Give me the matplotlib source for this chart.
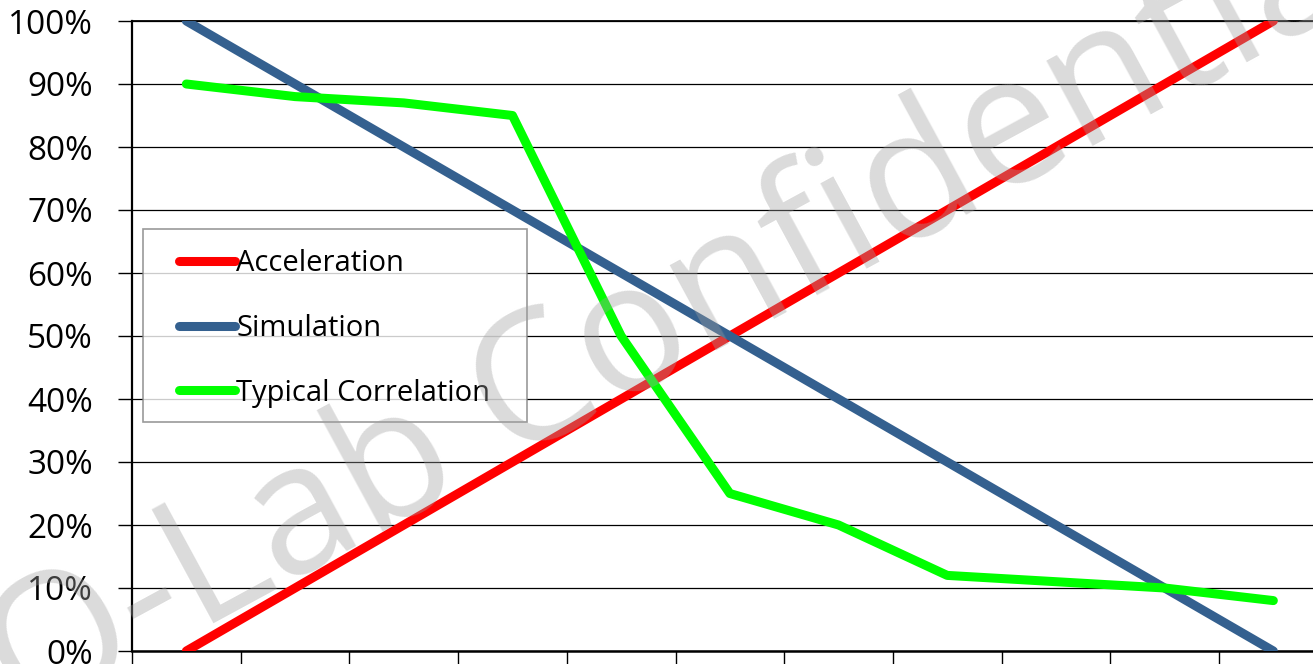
import numpy as np
import matplotlib
matplotlib.use("Agg")
import matplotlib.pyplot as plt
from matplotlib.legend_handler import HandlerLine2D
from matplotlib.lines import Line2D

# ---- data ----
categories = ["1", "2", "3", "4", "5", "6", "7", "8", "9", "10", "11"]
acceleration = [0, 10, 20, 30, 40, 50, 60, 70, 80, 90, 100]
simulation = [100, 90, 80, 70, 60, 50, 40, 30, 20, 10, 0]
typical_correlation = [90, 88, 87, 85, 50, 25, 20, 12, 11, 10, 8]
y_ticks = [0, 10, 20, 30, 40, 50, 60, 70, 80, 90, 100]
y_tick_labels = [f"{v}%" for v in y_ticks]
series_names = ["Acceleration", "Simulation", "Typical Correlation"]
series_colors = ["#FF0000", "#34608F", "#00FF00"]
watermark = "O-Lab Confidential"

plt.rcParams["font.family"] = ["Open Sans", "DejaVu Sans"]

W, H = 1313, 664
fig = plt.figure(figsize=(W / 100, H / 100), dpi=100)
fig.patch.set_facecolor("white")

# axes: left at 132 px, 11 categories of ~108.7 px (extends past right edge)
cat_w = 108.7
ax_left, ax_top, ax_bottom = 132, 21, 651
ax = fig.add_axes([ax_left / W, (H - ax_bottom) / H,
                   len(categories) * cat_w / W, (ax_bottom - ax_top) / H])

x = np.arange(len(categories))
for vals, name, col, z in zip([acceleration, simulation, typical_correlation],
                              series_names, series_colors, [3, 4, 5]):
    ax.plot(x, vals, color=col, lw=6.5, solid_capstyle="round",
            solid_joinstyle="round", label=name, zorder=z)

ax.set_xlim(-0.5, len(categories) - 0.5)
ax.set_ylim(0, 100)
ax.set_yticks(y_ticks)
ax.set_yticklabels(y_tick_labels, fontsize=24)
ax.set_xticks(np.arange(len(categories) + 1) - 0.5)
ax.set_xticklabels([])
ax.tick_params(axis="y", direction="out", length=10, width=1.0, pad=18, colors="black")
ax.tick_params(axis="x", direction="out", length=10, width=1.0, colors="black")
ax.yaxis.grid(True, color="black", lw=0.9, zorder=1)
ax.set_axisbelow(True)
ax.spines["right"].set_visible(False)
ax.spines["left"].set_linewidth(1.6)
ax.spines["bottom"].set_linewidth(1.8)
ax.spines["top"].set_linewidth(1.3)


class OffsetLineHandler(HandlerLine2D):
    def __init__(self, seg_px, **kw):
        super().__init__(**kw)
        self.seg_px = seg_px

    def get_xdata(self, legend, xdescent, ydescent, width, height, fontsize):
        x1 = -xdescent + width
        x0 = x1 - self.seg_px * 72 / 100
        xd = np.array([x0, x1])
        return xd, xd


handles, labels = ax.get_legend_handles_labels()
leg = ax.legend(handles, labels, loc="upper left",
                bbox_to_anchor=(143 / W, 1 - 229 / H), bbox_transform=fig.transFigure,
                fontsize=21, frameon=True, fancybox=False, borderpad=0.7,
                labelspacing=1.22, handlelength=2.45, handletextpad=0.05,
                borderaxespad=0,
                handler_map={Line2D: OffsetLineHandler(seg_px=56)})
leg.get_frame().set_edgecolor("#808080")
leg.get_frame().set_linewidth(1.2)
leg.set_zorder(6)

# widen the legend frame on the right side / trim bottom to match the reference
_orig_set_bounds = leg.legendPatch.set_bounds


def _adjusted(*args):
    if len(args) == 1:
        l, b, w, h = args[0]
    else:
        l, b, w, h = args
    _orig_set_bounds(l, b + 6, w + 16, h - 6)


leg.legendPatch.set_bounds = _adjusted

# watermark
fig.text(690 / W, 1 - 310 / H, watermark, fontsize=130, fontweight="normal",
         color="#a0a0a0", alpha=0.38, rotation=28.5, rotation_mode="anchor",
         ha="center", va="center", zorder=10)

fig.savefig("out.png", dpi=100)
